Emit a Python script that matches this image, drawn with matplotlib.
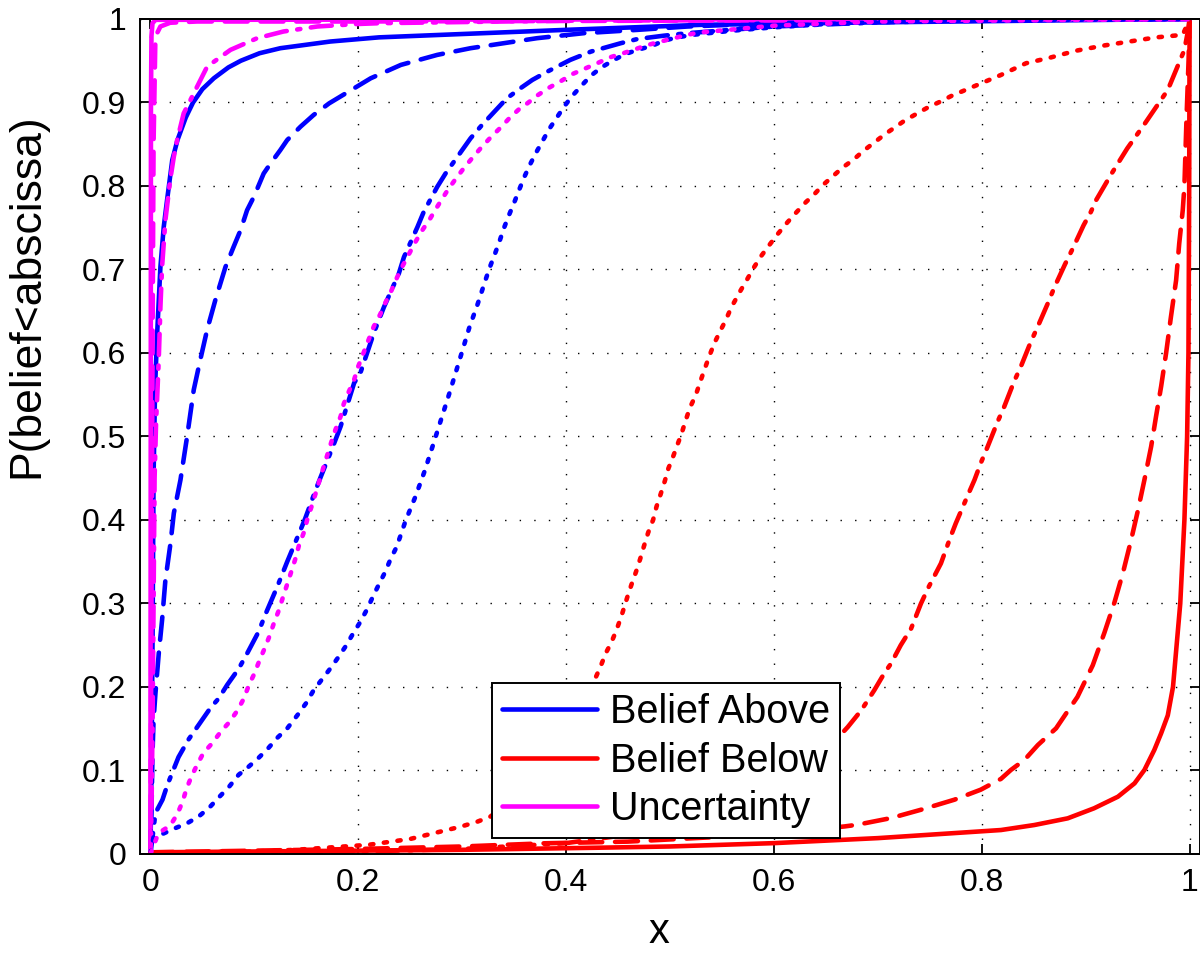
import matplotlib
matplotlib.use("Agg")
import matplotlib.pyplot as plt
import numpy as np

plt.rcParams['font.family'] = ['Liberation Sans', 'DejaVu Sans']

# ---- data (x, P(belief<x)) ----
above_solid_x = [0, 0.001, 0.002, 0.003, 0.0045, 0.0065, 0.0096, 0.0128, 0.016, 0.021, 0.026, 0.034,
                 0.041, 0.05, 0.061, 0.075, 0.087, 0.105, 0.125, 0.173, 0.22, 0.3, 0.4, 0.53, 0.7,
                 0.85, 1.0]
above_solid_y = [0, 0.1, 0.25, 0.45, 0.56, 0.624, 0.703, 0.751, 0.783, 0.831, 0.855, 0.882,
                 0.900, 0.916, 0.929, 0.942, 0.950, 0.959, 0.965, 0.973, 0.978, 0.982, 0.987, 0.993,
                 0.996, 0.998, 1.0]

above_dash_x = [0, 0.001, 0.002, 0.003, 0.0048, 0.008, 0.0112, 0.0144, 0.0193, 0.0225, 0.0289, 0.0353,
                0.0417, 0.048, 0.0546, 0.0626, 0.0722, 0.080, 0.0867, 0.093, 0.0995, 0.109, 0.1156,
                0.125, 0.1316, 0.1444, 0.157, 0.172, 0.212, 0.241, 0.276, 0.308, 0.340, 0.372, 0.417,
                0.469, 0.517, 0.6, 0.7, 0.85, 1.0]
above_dash_y = [0, 0.05, 0.12, 0.16, 0.192, 0.24, 0.28, 0.328, 0.372, 0.408, 0.448, 0.50,
                0.556, 0.592, 0.628, 0.664, 0.703, 0.727, 0.747, 0.771, 0.787, 0.815, 0.827,
                0.843, 0.855, 0.871, 0.885, 0.899, 0.929, 0.945, 0.957, 0.965, 0.971, 0.977, 0.983,
                0.987, 0.991, 0.995, 0.997, 0.999, 1.0]

above_dashdot_x = [0, 0.002, 0.0048, 0.0116, 0.0164, 0.027, 0.0366, 0.0578, 0.0658, 0.0738, 0.085, 0.093,
                   0.104, 0.111, 0.122, 0.1316, 0.1444, 0.149, 0.159, 0.164, 0.175, 0.183, 0.189,
                   0.196, 0.202, 0.215, 0.2247, 0.239, 0.244, 0.257, 0.263, 0.276, 0.284, 0.300,
                   0.308, 0.319, 0.334, 0.343, 0.356, 0.3675, 0.382, 0.404, 0.424, 0.4526, 0.4686,
                   0.494, 0.517, 0.6, 0.7, 0.85, 1.0]
above_dashdot_y = [0, 0.02, 0.049, 0.065, 0.083, 0.116, 0.137, 0.175, 0.1865, 0.2024, 0.222, 0.240,
                   0.266, 0.288, 0.320, 0.350, 0.388, 0.402, 0.436, 0.452, 0.486, 0.512, 0.536,
                   0.564, 0.576, 0.624, 0.655, 0.695, 0.715, 0.751, 0.769, 0.799, 0.815, 0.843,
                   0.857, 0.873, 0.893, 0.905, 0.917, 0.927, 0.937, 0.951, 0.961, 0.971, 0.976,
                   0.980, 0.983, 0.991, 0.996, 0.999, 1.0]

above_dot_x = [0, 0.003, 0.0116, 0.024, 0.0356, 0.047, 0.057, 0.066, 0.076, 0.085, 0.094, 0.104,
               0.1136, 0.122, 0.132, 0.1425, 0.150, 0.157, 0.165, 0.173, 0.181, 0.188, 0.195,
               0.2015, 0.208, 0.2144, 0.2199, 0.226, 0.231, 0.237, 0.2455, 0.255, 0.264, 0.2725,
               0.288, 0.2956, 0.2995, 0.307, 0.315, 0.3226, 0.3267, 0.3316, 0.336, 0.340, 0.345,
               0.350, 0.3547, 0.3595, 0.365, 0.3707, 0.377, 0.3836, 0.3906, 0.398, 0.406, 0.4147,
               0.4237, 0.434, 0.446, 0.457, 0.4686, 0.483, 0.494, 0.507, 0.5216, 0.56, 0.6, 0.65,
               0.75, 1.0]
above_dot_y = [0, 0.02, 0.024, 0.031, 0.037, 0.0455, 0.056, 0.068, 0.081, 0.095, 0.104, 0.115,
               0.127, 0.139, 0.151, 0.168, 0.181, 0.196, 0.209, 0.222, 0.236, 0.249, 0.264,
               0.277, 0.292, 0.309, 0.323, 0.338, 0.353, 0.368, 0.399, 0.428, 0.459, 0.492,
               0.553, 0.584, 0.600, 0.631, 0.659, 0.688, 0.703, 0.719, 0.734, 0.749, 0.765,
               0.780, 0.795, 0.810, 0.825, 0.839, 0.853, 0.868, 0.881, 0.895, 0.908, 0.920,
               0.932, 0.942, 0.951, 0.958, 0.963, 0.968, 0.974, 0.978, 0.981, 0.986, 0.990, 0.994,
               0.998, 1.0]

below_solid_x = [0, 0.1, 0.2, 0.3, 0.43, 0.5, 0.6, 0.7, 0.8185, 0.8506, 0.8827, 0.908, 0.931, 0.947,
                 0.9565, 0.966, 0.9726, 0.979, 0.984, 0.991, 0.995, 0.9976, 0.9989, 0.9996, 1.0]
below_solid_y = [0.002, 0.003, 0.004, 0.005, 0.0075, 0.009, 0.013, 0.019, 0.0287, 0.0347, 0.0427,
                 0.0547, 0.0686, 0.0846, 0.1006, 0.1245, 0.1445, 0.166, 0.2, 0.3, 0.4, 0.5, 0.6,
                 0.8, 1.0]

below_dash_x = [0, 0.2, 0.3, 0.379, 0.459, 0.555, 0.619, 0.668, 0.680, 0.7126, 0.7415, 0.7736, 0.799,
                0.8185, 0.828, 0.841, 0.854, 0.8715, 0.881, 0.892, 0.9068, 0.918, 0.9276, 0.9357,
                0.9437, 0.950, 0.9565, 0.963, 0.9677, 0.9726, 0.9774, 0.982, 0.987, 0.990, 0.9934,
                0.995, 0.997, 0.999, 1.0]
below_dash_y = [0.002, 0.006, 0.009, 0.0128, 0.0148, 0.021, 0.027, 0.033, 0.035, 0.043, 0.053, 0.065,
                0.077, 0.09, 0.1006, 0.1126, 0.1305, 0.1505, 0.168, 0.188, 0.226, 0.265, 0.301,
                0.336, 0.376, 0.410, 0.448, 0.488, 0.524, 0.560, 0.600, 0.643, 0.687, 0.731, 0.771,
                0.80, 0.88, 0.95, 1.0]

below_dashdot_x = [0, 0.2, 0.3, 0.4, 0.5, 0.55, 0.6, 0.64, 0.671, 0.684, 0.6965, 0.706, 0.7126, 0.722,
                   0.732, 0.7415, 0.749, 0.7607, 0.770, 0.775, 0.786, 0.793, 0.799, 0.8057, 0.815,
                   0.8217, 0.831, 0.8377, 0.847, 0.854, 0.8634, 0.870, 0.880, 0.8875, 0.898, 0.905,
                   0.910, 0.925, 0.94, 0.9565, 0.979, 0.995, 0.998, 1.0]
below_dashdot_y = [0.001, 0.003, 0.006, 0.013, 0.03, 0.045, 0.07, 0.11, 0.152, 0.172, 0.196, 0.216,
                   0.228, 0.250, 0.270, 0.300, 0.320, 0.348, 0.380, 0.396, 0.428, 0.448, 0.468,
                   0.488, 0.517, 0.536, 0.5656, 0.584, 0.6128, 0.632, 0.659, 0.679, 0.706, 0.725,
                   0.753, 0.769, 0.783, 0.815, 0.845, 0.874, 0.915, 0.963, 0.983, 1.0]

below_dot_x = [0, 0.1, 0.14, 0.21, 0.25, 0.2985, 0.3146, 0.327, 0.36, 0.39, 0.41, 0.433, 0.438,
               0.4436, 0.4484, 0.453, 0.459, 0.463, 0.4673, 0.4712, 0.475, 0.479, 0.4837, 0.487,
               0.491, 0.495, 0.4985, 0.5024, 0.5065, 0.511, 0.515, 0.519, 0.5248, 0.5286, 0.533,
               0.5376, 0.5424, 0.548, 0.5537, 0.559, 0.568, 0.5746, 0.581, 0.588, 0.596, 0.604,
               0.613, 0.622, 0.631, 0.638, 0.647, 0.657, 0.666, 0.677, 0.686, 0.6965, 0.7068,
               0.715, 0.7254, 0.7366, 0.748, 0.760, 0.771, 0.8185, 0.8426, 0.8666, 0.8907, 0.9164,
               0.942, 0.968, 0.9934, 1.0]
below_dot_y = [0.001, 0.003, 0.005, 0.011, 0.018, 0.0327, 0.0387, 0.0447, 0.075, 0.12, 0.16, 0.224,
               0.240, 0.2535, 0.268, 0.284, 0.308, 0.323, 0.338, 0.353, 0.369, 0.385, 0.400, 0.416,
               0.431, 0.4467, 0.462, 0.474, 0.488, 0.503, 0.519, 0.534, 0.5497, 0.5637, 0.5796,
               0.5956, 0.611, 0.6256, 0.6395, 0.6547, 0.675, 0.689, 0.703, 0.7166, 0.730, 0.743,
               0.7565, 0.769, 0.781, 0.789, 0.801, 0.812, 0.822, 0.832, 0.842, 0.852, 0.862,
               0.869, 0.878, 0.886, 0.894, 0.901, 0.908, 0.933, 0.947, 0.954, 0.962, 0.968,
               0.973, 0.978, 0.981, 1.0]

unc_solid_x = [0, 0.0005, 0.001, 0.002, 0.005, 1.0]
unc_solid_y = [0, 0.9, 0.98, 0.995, 0.999, 1.0]

unc_dash_x = [0, 0.001, 0.002, 0.003, 0.0048, 0.0096, 0.019, 0.045, 0.2, 0.5, 1.0]
unc_dash_y = [0, 0.3, 0.6, 0.85, 0.979, 0.991, 0.9955, 0.997, 0.997, 0.998, 1.0]

unc_dashdot_x = [0, 0.001, 0.002, 0.003, 0.004, 0.0055, 0.0064, 0.008, 0.0096, 0.0112, 0.0144, 0.019,
                 0.0225, 0.0257, 0.032, 0.0385, 0.0546, 0.077, 0.1027, 0.128, 0.1605, 0.199,
                 0.2215, 0.4, 1.0]
unc_dashdot_y = [0, 0.05, 0.15, 0.3, 0.45, 0.52, 0.544, 0.592, 0.655, 0.703, 0.759, 0.807,
                 0.835, 0.855, 0.887, 0.903, 0.943, 0.963, 0.977, 0.985, 0.991, 0.994,
                 0.995, 0.998, 1.0]

unc_dot_x = [0, 0.0077, 0.019, 0.026, 0.031, 0.0347, 0.0395, 0.045, 0.051, 0.0597, 0.0674, 0.076,
             0.0838, 0.0898, 0.0947, 0.1, 0.105, 0.1098, 0.1146, 0.1187, 0.1236, 0.1274, 0.1316,
             0.1355, 0.1396, 0.1428, 0.1476, 0.1508, 0.155, 0.159, 0.166, 0.170, 0.174, 0.178,
             0.183, 0.186, 0.191, 0.196, 0.2, 0.205, 0.21, 0.215, 0.221, 0.226, 0.232, 0.2375,
             0.243, 0.249, 0.255, 0.2616, 0.2687, 0.2754, 0.286, 0.294, 0.302, 0.310, 0.319,
             0.328, 0.337, 0.346, 0.3556, 0.3627, 0.373, 0.384, 0.3955, 0.406, 0.417, 0.430,
             0.442, 0.455, 0.467, 0.479, 0.491, 0.504, 0.516, 0.53, 0.6, 0.7, 1.0]
unc_dot_y = [0, 0.025, 0.034, 0.048, 0.063, 0.078, 0.093, 0.107, 0.121, 0.133, 0.146, 0.158,
             0.172, 0.186, 0.202, 0.216, 0.232, 0.246, 0.261, 0.276, 0.292, 0.307, 0.323,
             0.338, 0.354, 0.369, 0.385, 0.400, 0.416, 0.432, 0.461, 0.477, 0.493, 0.508,
             0.524, 0.539, 0.554, 0.568, 0.584, 0.600, 0.616, 0.632, 0.646, 0.660, 0.675, 0.691,
             0.705, 0.719, 0.733, 0.747, 0.760, 0.774, 0.795, 0.809, 0.822, 0.834, 0.847,
             0.859, 0.870, 0.882, 0.893, 0.899, 0.909, 0.918, 0.926, 0.934, 0.940, 0.947,
             0.954, 0.959, 0.964, 0.969, 0.973, 0.977, 0.981, 0.984, 0.992, 0.997, 1.0]

x_ticks = [0, 0.2, 0.4, 0.6, 0.8, 1]
x_ticklabels = ['0', '0.2', '0.4', '0.6', '0.8', '1']
y_ticks = [0, 0.1, 0.2, 0.3, 0.4, 0.5, 0.6, 0.7, 0.8, 0.9, 1]
y_ticklabels = ['0', '0.1', '0.2', '0.3', '0.4', '0.5', '0.6', '0.7', '0.8', '0.9', '1']

BLUE, RED, MAG = '#0000FF', '#FF0000', '#FF00FF'
LW = 3.3
SOLID = '-'
DASHED = (0, (5.0, 2.8))
DASHDOT = (0, (4.6, 2.3, 0.7, 2.3))
DOTTED = (0, (0.7, 2.3))

fig = plt.figure(figsize=(12, 9.59), dpi=100)
ax = fig.add_axes([0.1167, 0.1095, 0.8833, 0.8707])

curves = [
    (above_solid_x, above_solid_y, BLUE, SOLID, 'Belief Above'),
    (below_solid_x, below_solid_y, RED, SOLID, 'Belief Below'),
    (unc_solid_x, unc_solid_y, MAG, SOLID, 'Uncertainty'),
    (above_dash_x, above_dash_y, BLUE, DASHED, None),
    (below_dash_x, below_dash_y, RED, DASHED, None),
    (unc_dash_x, unc_dash_y, MAG, DASHED, None),
    (above_dashdot_x, above_dashdot_y, BLUE, DASHDOT, None),
    (below_dashdot_x, below_dashdot_y, RED, DASHDOT, None),
    (unc_dashdot_x, unc_dashdot_y, MAG, DASHDOT, None),
    (above_dot_x, above_dot_y, BLUE, DOTTED, None),
    (below_dot_x, below_dot_y, RED, DOTTED, None),
    (unc_dot_x, unc_dot_y, MAG, DOTTED, None),
]
for xs, ys, c, ls, lab in curves:
    ax.plot(xs, ys, color=c, linestyle=ls, linewidth=LW, label=lab,
            solid_capstyle='round', dash_capstyle='round')

ax.set_xlim(-0.01, 1.01)
ax.set_ylim(0, 1)
ax.set_xticks(x_ticks)
ax.set_xticklabels(x_ticklabels)
ax.set_yticks(y_ticks)
ax.set_yticklabels(y_ticklabels)
ax.tick_params(direction='in', length=7, width=1.3, labelsize=23, top=True, right=True, pad=10)
for sp in ax.spines.values():
    sp.set_linewidth(1.4)
ax.grid(True, color='black', linestyle=(0, (1, 9.5)), linewidth=1.0)
ax.set_axisbelow(True)

ax.set_xlabel('x', fontsize=30)
ax.xaxis.set_label_coords(0.49, -0.069)
ax.set_ylabel('P(belief<abscissa)', fontsize=32)
ax.yaxis.set_label_coords(-0.087, 0.669)

leg = ax.legend(loc='lower left', bbox_to_anchor=(0.332, 0.019), fontsize=28.5, frameon=True,
                fancybox=False, framealpha=1, handlelength=2.4, handletextpad=0.33,
                borderpad=0.25, labelspacing=0.27, borderaxespad=0)
leg.get_frame().set_edgecolor('black')
leg.get_frame().set_linewidth(1.4)

fig.savefig('out.png', dpi=100)
